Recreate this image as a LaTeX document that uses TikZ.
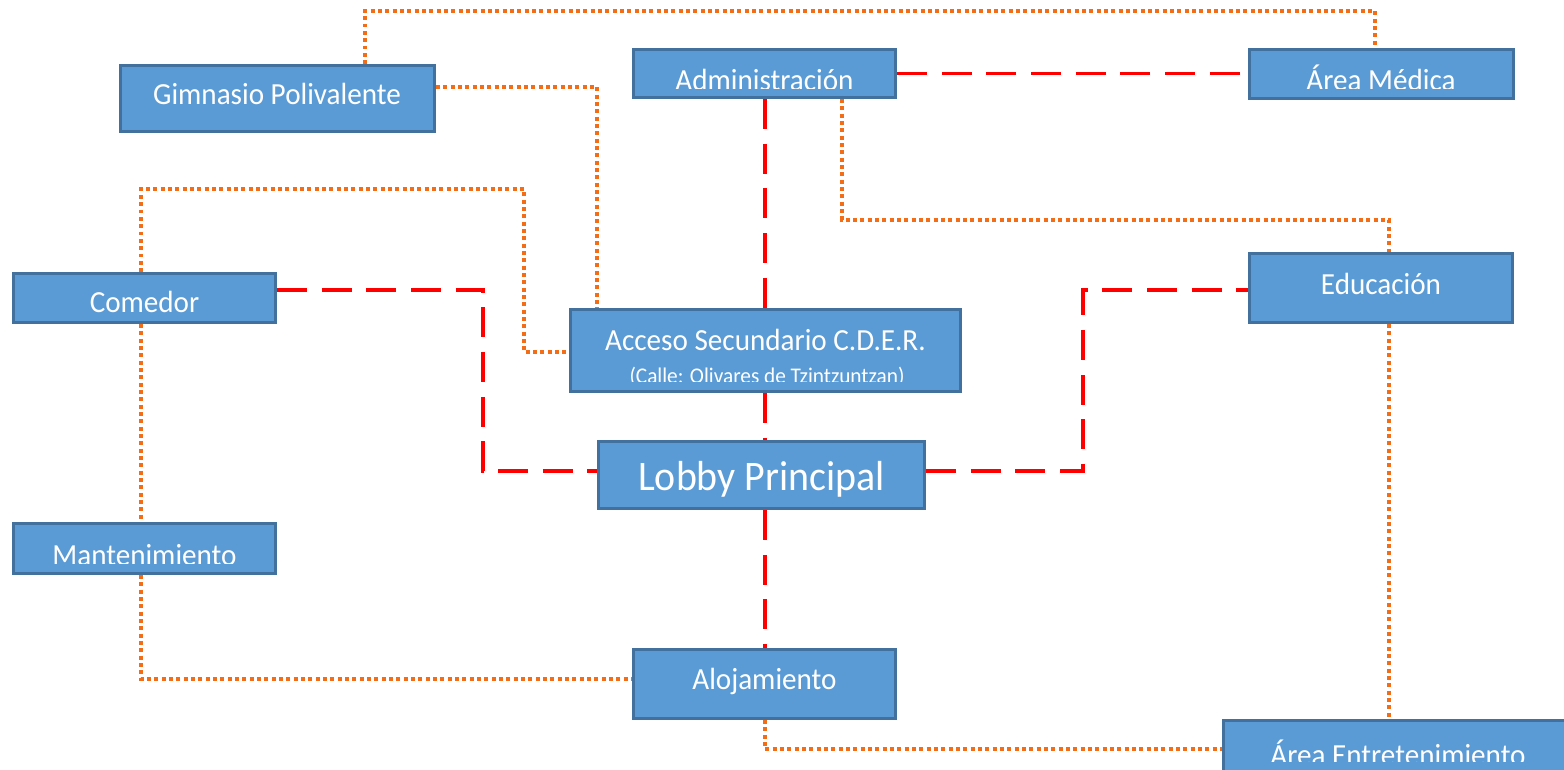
\documentclass[tikz,border=0pt]{standalone}
\usepackage{fontspec}
\setmainfont{Carlito}[FakeStretch=0.95]
\definecolor{boxfill}{HTML}{5B9BD5}
\definecolor{boxline}{HTML}{41719C}
\definecolor{redline}{HTML}{FF0000}
\definecolor{orline}{HTML}{F36C16}
\tikzset{
  box/.style={draw=boxline, fill=boxfill, line width=2.4pt, inner sep=0pt, rectangle},
  txt/.style={text=white, inner sep=0pt, anchor=base, font=\fontsize{23}{27}\selectfont},
  bigtxt/.style={txt, font=\fontsize{31.5}{36}\selectfont},
  smalltxt/.style={txt, font=\fontsize{16.8}{20}\selectfont},
  redlink/.style={draw=redline, line width=2.8pt, dash pattern=on 22.5pt off 11pt},
  orlink/.style={draw=orline, line width=2.8pt, dash pattern=on 2.8pt off 2.7pt},
}
\newcommand{\boxnode}[5]{%
  \node[box, minimum width={(#4-#2-3)*0.75pt}, minimum height={(#5-#3-3)*0.75pt}] (#1) at ({(#2+#4)/2},{(#3+#5)/2}) {};}
\begin{document}
\begin{tikzpicture}[x=0.75pt,y=-0.75pt]
\useasboundingbox[fill=white] (0,0) rectangle (1564,769);
% coordinates for connector bends
\coordinate (t1) at (365,11);
\coordinate (t2) at (1375,11);
\coordinate (t3) at (597,87);
\coordinate (t4) at (141,189);
\coordinate (t5) at (524,189);
\coordinate (t5b) at (524,352);
\coordinate (t6) at (842,220);
\coordinate (t7) at (1389,220);
\coordinate (t8) at (141,679);
\coordinate (t9) at (765,749);
\coordinate (r0) at (765,0);
\coordinate (r2) at (483,290);
\coordinate (r3) at (483,471);
\coordinate (r4) at (1083,471);
\coordinate (r5) at (1083,290);
% boxes
\boxnode{gim}{119}{64}{436}{133}
\boxnode{adm}{632}{48}{897}{99}
\boxnode{med}{1248}{48}{1515}{100}
\boxnode{com}{12}{272}{277}{324}
\boxnode{acc}{569}{308}{962}{393}
\boxnode{lob}{597}{440}{926}{510}
\boxnode{edu}{1248}{252}{1514}{324}
\boxnode{man}{12}{522}{277}{575}
\boxnode{alo}{632}{648}{897}{720}
\boxnode{ent}{1222}{719}{1576}{790}
% orange dotted connectors
\draw[orlink] (gim.north -| t1) -- (t1) -- (t2) -- (med.north -| t2);
\draw[orlink] (gim.east |- t3) -- (t3) -- (acc.north -| t3);
\draw[orlink] (com.north -| t4) -- (t4) -- (t5) -- (t5b) -- (acc.west |- t5b);
\draw[orlink] (adm.south -| t6) -- (t6) -- (t7) -- (edu.north -| t7);
\draw[orlink] (com.south -| t4) -- (man.north -| t4);
\draw[orlink] (man.south -| t8) -- (t8) -- (alo.west |- t8);
\draw[orlink] (alo.south -| t9) -- (t9) -- (ent.west |- t9);
\draw[orlink] (edu.south -| t7) -- (ent.north -| t7);
% red dashed connectors
\draw[redlink] (adm.east) -- (med.west |- adm.east);
\draw[redlink] (adm.south -| r0) -- (acc.north -| r0);
\draw[redlink] (acc.south -| r0) -- (lob.north -| r0);
\draw[redlink] (com.east |- r2) -- (r2) -- (r3) -- (lob.west |- r3);
\draw[redlink] (lob.east |- r4) -- (r4) -- (r5) -- (edu.west |- r5);
\draw[redlink] (lob.south -| r0) -- (alo.north -| r0);
% labels
\node[txt] (lgim) at (277,104) {Gimnasio Polivalente};
\begin{scope}
  \clip (632,48) rectangle (1515,88.5);
  \node[txt] (ladm) at (764.5,90) {Administración};
  \node[txt] (lmed) at (1381,90) {Área Médica};
\end{scope}
\node[txt] (lcom) at (144.5,312) {Comedor};
\node[txt] (lacc) at (765.5,350) {Acceso Secundario C.D.E.R.};
\begin{scope}
  \clip (569,300) rectangle (962,381);
  \node[smalltxt] (lacc2) at (767,383) {(Calle: Olivares de Tzintzuntzan)};
\end{scope}
\node[bigtxt] (llob) at (761.5,490) {Lobby Principal};
\node[txt] (ledu) at (1381,294) {Educación};
\begin{scope}
  \clip (12,522) rectangle (277,563);
  \node[txt] (lman) at (144.5,565) {Mantenimiento};
\end{scope}
\node[txt] (lalo) at (764.5,689) {Alojamiento};
\begin{scope}
  \clip (1222,719) rectangle (1564,761);
  \node[txt] (lent) at (1398,765) {Área Entretenimiento};
\end{scope}
\end{tikzpicture}
\end{document}
